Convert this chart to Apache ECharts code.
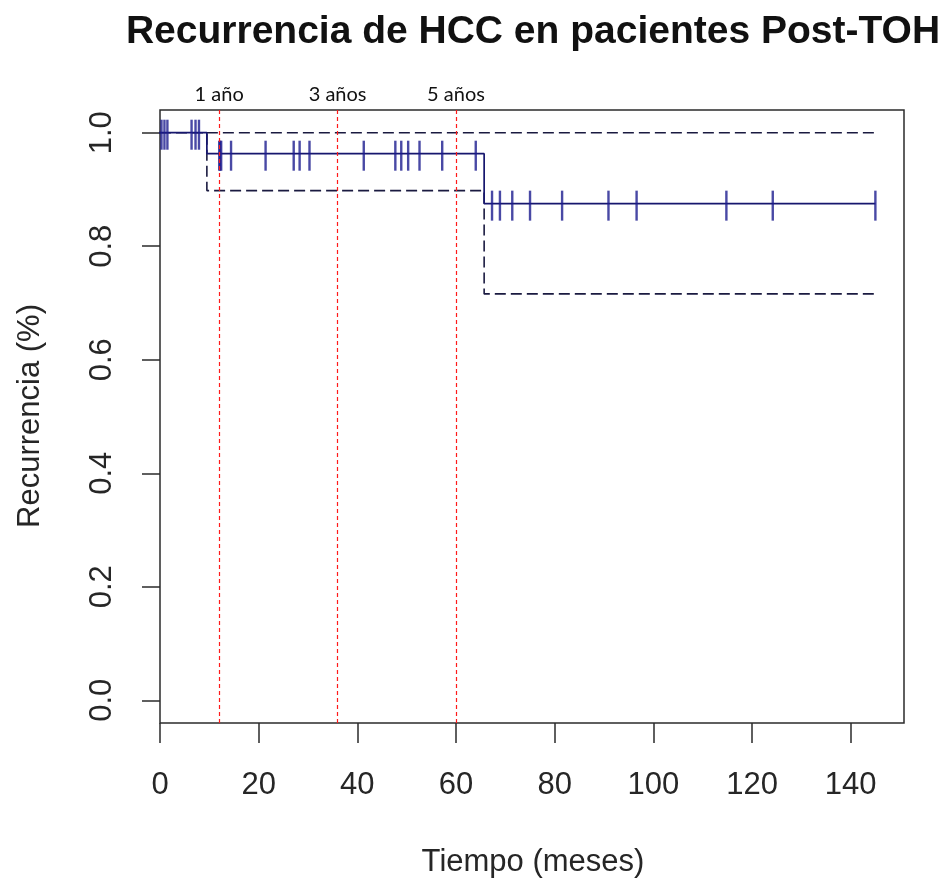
<!DOCTYPE html>
<html>
<head>
<meta charset="utf-8">
<title>Recurrencia de HCC en pacientes Post-TOH</title>
<script src="https://cdn.jsdelivr.net/npm/echarts@6/dist/echarts.min.js"></script>
<style>
  html, body { margin: 0; padding: 0; background: #ffffff; }
  #chart { width: 941px; height: 879px; }
</style>
</head>
<body>
<div id="chart"></div>
<script>
// Kaplan–Meier estimate: month at which each step starts and the estimate after it
const stepMonths = [-4, 9.5, 65.7, 145];
const stepSurvival = [1.0, 0.963, 0.875, 0.875];

// 95% confidence band (step functions)
const upperMonths = [9.5, 145];
const upperBand = [1.0, 1.0];
const lowerMonths = [0, 9.5, 65.7, 145];
const lowerBand = [1.0, 0.898, 0.716, 0.716];

// Censored follow-up times (months)
const censoredMonths = [
  0.3, 0.9, 1.5, 6.4, 7.2, 7.9,
  12.0, 12.2, 12.4, 14.4, 21.4, 27.1, 28.3, 30.3,
  41.3, 47.7, 48.9, 50.3, 52.6, 57.2, 64.0,
  67.3, 68.9, 71.4, 75.0, 81.5, 90.9, 96.6, 114.8, 124.2, 145.0
];

// Reference lines at 1, 3 and 5 years
const milestoneMonths = [12, 36, 60];
const milestoneLabels = ['1 año', '3 años', '5 años'];

// Axis tick labels
const xTickValues = [0, 20, 40, 60, 80, 100, 120, 140];
const yTickValues = [0, 0.2, 0.4, 0.6, 0.8, 1.0];

const toPairs = (xs, ys) => xs.map((x, i) => [x, ys[i]]);

// value of the step curve at month t
function survivalAt(t) {
  let v = stepSurvival[0];
  for (let i = 0; i < stepMonths.length; i++) {
    if (stepMonths[i] <= t) v = stepSurvival[i];
  }
  return v;
}

const INK = '#262626';
const CURVE = '#17176e';
const MARK = '#1c1c8e';
const BAND = '#1a1a40';
const RED = '#ff1a1a';
const FONT = '"Liberation Sans", Arial, sans-serif';

const chart = echarts.init(document.getElementById('chart'), null, { renderer: 'canvas' });

chart.setOption({
  animation: false,
  backgroundColor: '#ffffff',
  grid: {
    left: 160, right: 37, top: 110, bottom: 156,
    show: true, borderColor: '#2b2b2b', borderWidth: 1.5,
    backgroundColor: 'transparent',
    outerBoundsMode: 'none'
  },
  xAxis: {
    type: 'value', min: 0, max: 150.8,
    axisLine: { show: false, onZero: false },
    splitLine: { show: false },
    axisTick: { show: true, length: 20, customValues: xTickValues,
      lineStyle: { color: '#2b2b2b', width: 1.5 } },
    axisLabel: { customValues: xTickValues, margin: 47, fontSize: 31,
      fontFamily: FONT, color: INK }
  },
  yAxis: {
    type: 'value', min: -0.04, max: 1.04,
    axisLine: { show: false, onZero: false },
    splitLine: { show: false },
    axisTick: { show: true, length: 18, customValues: yTickValues,
      lineStyle: { color: '#2b2b2b', width: 1.5 } },
    axisLabel: { customValues: yTickValues, margin: 42, fontSize: 31, rotate: 90,
      fontFamily: FONT, color: INK, formatter: v => v.toFixed(1) }
  },
  series: [
    {
      name: 'IC superior', type: 'line', step: 'end', symbol: 'none',
      data: toPairs(upperMonths, upperBand),
      lineStyle: { color: BAND, width: 1.6, type: [11, 5] }, z: 2
    },
    {
      name: 'IC inferior', type: 'line', step: 'end', symbol: 'none',
      data: toPairs(lowerMonths, lowerBand),
      lineStyle: { color: BAND, width: 1.6, type: [11, 5] }, z: 2
    },
    {
      name: 'Kaplan-Meier', type: 'line', step: 'end', symbol: 'none', clip: false,
      data: toPairs(stepMonths, stepSurvival),
      lineStyle: { color: CURVE, width: 1.7 }, z: 3
    },
    {
      name: 'Censurados', type: 'scatter', clip: false,
      data: censoredMonths.map(t => [t, survivalAt(t)]),
      symbol: 'rect', symbolSize: [2.4, 30], symbolOffset: [0, 2],
      itemStyle: { color: MARK }, z: 4
    },
    {
      name: 'Años', type: 'line', data: [], z: 5,
      markLine: {
        silent: true, symbol: 'none', animation: false,
        lineStyle: { color: RED, width: 1.2, type: [4, 3], opacity: 1 },
        label: {
          show: true, position: 'end', distance: 5, formatter: p => p.name,
          fontFamily: 'Lato, "Open Sans", sans-serif', fontSize: 20, color: '#111'
        },
        data: milestoneMonths.map((m, i) => ({
          xAxis: m, name: milestoneLabels[i],
          lineStyle: { color: RED, width: 1.2, type: [4, 3] }
        }))
      }
    }
  ],
  graphic: [
    {
      type: 'text', x: 533, y: 32,
      style: { text: 'Recurrencia de HCC en pacientes Post-TOH', font: 'bold 39px ' + FONT,
        fill: '#111', align: 'center', verticalAlign: 'middle' }
    },
    {
      type: 'text', x: 533, y: 862,
      style: { text: 'Tiempo (meses)', font: '31px ' + FONT,
        fill: INK, align: 'center', verticalAlign: 'middle' }
    },
    {
      type: 'text', x: 30, y: 416, rotation: Math.PI / 2,
      style: { text: 'Recurrencia (%)', font: '31px ' + FONT,
        fill: INK, align: 'center', verticalAlign: 'middle' }
    }
  ]
});
</script>
</body>
</html>
